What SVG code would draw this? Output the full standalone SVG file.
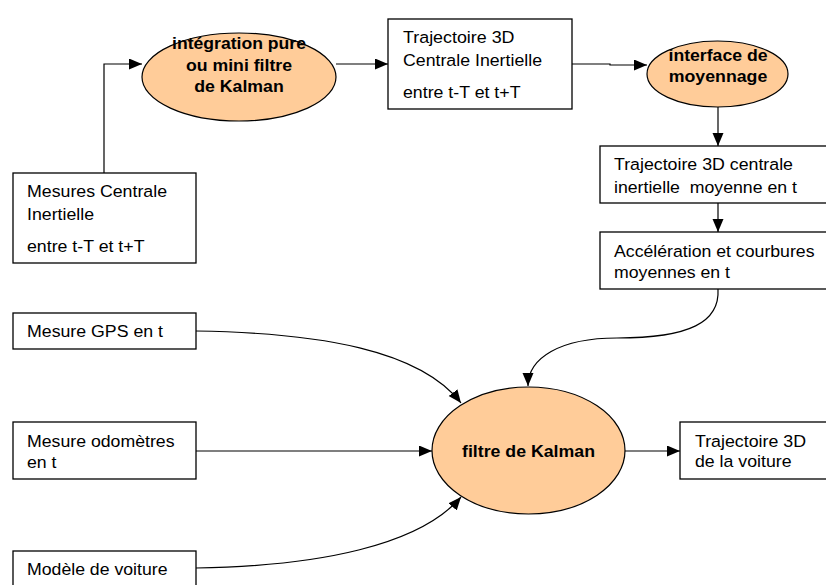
<svg xmlns="http://www.w3.org/2000/svg" width="826" height="585" viewBox="0 0 826 585">
  <style>
    .box { fill: #ffffff; stroke: #000000; stroke-width: 1.3; }
    .proc { fill: #ffcc99; stroke: #000000; stroke-width: 1.2; }
    .t { font-family: "Liberation Sans", Arial, sans-serif; font-size: 16.3px; fill: #000000; }
    .b { font-family: "Liberation Sans", Arial, sans-serif; font-size: 16.3px; font-weight: bold; fill: #000000; text-anchor: middle; }
    .link { fill: none; stroke: #000000; stroke-width: 1.2; marker-end: url(#arrow); }
  </style>
  <defs>
    <marker id="arrow" markerUnits="userSpaceOnUse" markerWidth="14" markerHeight="12" refX="13" refY="5.5" orient="auto">
      <path d="M0,0 L13,5.5 L0,11 z" fill="#000000"/>
    </marker>
  </defs>
  <rect width="826" height="585" fill="#ffffff"/>

  <!-- connectors -->
  <g id="connectors">
    <polyline class="link" points="104,173 104,64 142,64"/>
    <line class="link" x1="336" y1="64" x2="388" y2="64"/>
    <polyline class="link" points="572,64 610,64 610,65 647,65"/>
    <line class="link" x1="718" y1="107" x2="718" y2="146"/>
    <line class="link" x1="718" y1="203" x2="718" y2="232"/>
    <path class="link" d="M718,289 C720,322 690,338 617,338 C560,338 528,358 528,386"/>
    <path class="link" d="M196,331 C320,333 420,350 461,403"/>
    <line class="link" x1="196" y1="451" x2="432" y2="451"/>
    <path class="link" d="M196,568 C320,566 420,545 461,497"/>
    <line class="link" x1="625" y1="451" x2="680" y2="451"/>
  </g>

  <g id="mesures-ci">
    <rect class="box" x="13" y="173" width="183" height="90"/>
    <text class="t" x="27" y="197" textLength="140" lengthAdjust="spacingAndGlyphs">Mesures Centrale</text>
    <text class="t" x="27" y="220" textLength="67" lengthAdjust="spacingAndGlyphs">Inertielle</text>
    <text class="t" x="27" y="252" textLength="117.5" lengthAdjust="spacingAndGlyphs">entre t-T et t+T</text>
  </g>

  <g id="integration">
    <ellipse class="proc" cx="239" cy="77" rx="97" ry="44"/>
    <text class="b" x="239" y="49" textLength="134" lengthAdjust="spacingAndGlyphs">intégration pure</text>
    <text class="b" x="239" y="71" textLength="106" lengthAdjust="spacingAndGlyphs">ou mini filtre</text>
    <text class="b" x="239" y="92" textLength="89.5" lengthAdjust="spacingAndGlyphs">de Kalman</text>
  </g>

  <g id="trajectoire-ci">
    <rect class="box" x="388" y="19" width="184" height="90"/>
    <text class="t" x="403" y="43" textLength="111.5" lengthAdjust="spacingAndGlyphs">Trajectoire 3D</text>
    <text class="t" x="403" y="66" textLength="139" lengthAdjust="spacingAndGlyphs">Centrale Inertielle</text>
    <text class="t" x="403" y="98" textLength="117.5" lengthAdjust="spacingAndGlyphs">entre t-T et t+T</text>
  </g>

  <g id="moyennage">
    <ellipse class="proc" cx="717.5" cy="74" rx="70.5" ry="33"/>
    <text class="b" x="718" y="61" textLength="99" lengthAdjust="spacingAndGlyphs">interface de</text>
    <text class="b" x="718" y="82" textLength="98.5" lengthAdjust="spacingAndGlyphs">moyennage</text>
  </g>

  <g id="trajectoire-moyenne">
    <rect class="box" x="600" y="146" width="232" height="57"/>
    <text class="t" x="614" y="170" textLength="179" lengthAdjust="spacingAndGlyphs">Trajectoire 3D centrale</text>
    <text class="t" x="614" y="193" textLength="183" lengthAdjust="spacingAndGlyphs" xml:space="preserve">inertielle  moyenne en t</text>
  </g>

  <g id="acceleration">
    <rect class="box" x="600" y="232" width="232" height="57"/>
    <text class="t" x="614" y="257" textLength="200.5" lengthAdjust="spacingAndGlyphs">Accélération et courbures</text>
    <text class="t" x="614" y="278" textLength="116" lengthAdjust="spacingAndGlyphs">moyennes en t</text>
  </g>

  <g id="gps">
    <rect class="box" x="13" y="313" width="183" height="36"/>
    <text class="t" x="27" y="337" textLength="136" lengthAdjust="spacingAndGlyphs">Mesure GPS en t</text>
  </g>

  <g id="odometres">
    <rect class="box" x="13" y="422" width="183" height="57"/>
    <text class="t" x="27" y="447" textLength="147.5" lengthAdjust="spacingAndGlyphs">Mesure odomètres</text>
    <text class="t" x="27" y="468" textLength="29.5" lengthAdjust="spacingAndGlyphs">en t</text>
  </g>

  <g id="modele">
    <rect class="box" x="13" y="551" width="183" height="50"/>
    <text class="t" x="27" y="575" textLength="140.5" lengthAdjust="spacingAndGlyphs">Modèle de voiture</text>
  </g>

  <g id="kalman">
    <ellipse class="proc" cx="528.5" cy="450.5" rx="96.5" ry="63.5"/>
    <text class="b" x="528.5" y="457" textLength="133" lengthAdjust="spacingAndGlyphs">filtre de Kalman</text>
  </g>

  <g id="trajectoire-voiture">
    <rect class="box" x="680" y="422" width="152" height="57"/>
    <text class="t" x="695" y="447" textLength="111" lengthAdjust="spacingAndGlyphs">Trajectoire 3D</text>
    <text class="t" x="695" y="467" textLength="96.5" lengthAdjust="spacingAndGlyphs">de la voiture</text>
  </g>
</svg>
